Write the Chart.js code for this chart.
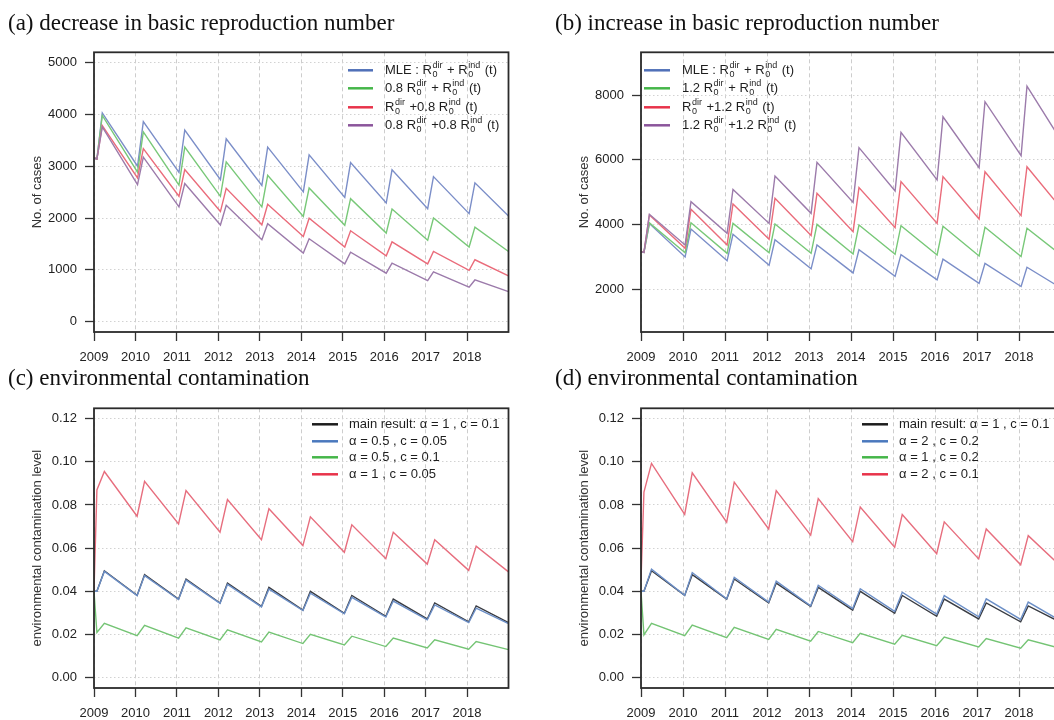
<!DOCTYPE html>
<html lang="en">
<head>
<meta charset="UTF-8">
<title>Scenarios: basic reproduction number and environmental contamination</title>
<style>
  html, body { margin: 0; padding: 0; background: #fff; }
  body { width: 1054px; height: 720px; overflow: hidden; position: relative; }
  canvas { position: absolute; }
  #chartA { left: 0; top: 0; }
  #chartB { left: 547px; top: 0; }
  #chartC { left: 0; top: 360px; }
  #chartD { left: 547px; top: 360px; }
</style>
</head>
<body>
<canvas id="chartA" width="530" height="372"></canvas>
<canvas id="chartB" width="540" height="372"></canvas>
<canvas id="chartC" width="530" height="360"></canvas>
<canvas id="chartD" width="540" height="360"></canvas>

<script src="https://cdn.jsdelivr.net/npm/chart.js"></script>
<script>
// time points: start, yearly trough / peak, end
const tCases = [2009.0, 2009.07, 2009.2, 2010.05, 2010.19, 2011.05, 2011.19, 2012.05, 2012.19, 2013.05, 2013.19,
  2014.05, 2014.19, 2015.05, 2015.19, 2016.05, 2016.19, 2017.05, 2017.19, 2018.05, 2018.19, 2019.0];
const tEnv = [2009.0, 2009.07, 2009.25, 2010.04, 2010.22, 2011.04, 2011.22, 2012.04, 2012.22, 2013.04, 2013.22,
  2014.04, 2014.22, 2015.04, 2015.22, 2016.04, 2016.22, 2017.04, 2017.22, 2018.04, 2018.22, 2019.0];

const yearTicks = [2009, 2010, 2011, 2012, 2013, 2014, 2015, 2016, 2017, 2018];
const yearLabels = ['2009', '2010', '2011', '2012', '2013', '2014', '2015', '2016', '2017', '2018'];
const casesTicksA = [0, 1000, 2000, 3000, 4000, 5000];
const casesLabelsA = ['0', '1000', '2000', '3000', '4000', '5000'];
const casesTicksB = [2000, 4000, 6000, 8000];
const casesLabelsB = ['2000', '4000', '6000', '8000'];
const envTicks = [0, 0.02, 0.04, 0.06, 0.08, 0.10, 0.12];
const envLabels = ['0.00', '0.02', '0.04', '0.06', '0.08', '0.10', '0.12'];

// number of cases
const casesMLE = [3160, 3140, 4030, 3000, 3860, 2880, 3700, 2740, 3530, 2630, 3370, 2505, 3220, 2400, 3070, 2290, 2930, 2180, 2800, 2085, 2680, 2040];
const casesDir08 = [3160, 3140, 3980, 2885, 3665, 2635, 3370, 2420, 3085, 2215, 2825, 2030, 2580, 1860, 2375, 1710, 2175, 1570, 2000, 1440, 1825, 1355];
const casesInd08 = [3160, 3140, 3785, 2775, 3340, 2420, 2935, 2125, 2575, 1870, 2265, 1645, 1995, 1440, 1755, 1270, 1540, 1115, 1355, 990, 1195, 885];
const casesBoth08 = [3160, 3140, 3760, 2645, 3175, 2215, 2665, 1865, 2245, 1580, 1890, 1325, 1600, 1115, 1340, 935, 1130, 790, 960, 665, 805, 580];
const casesDir12 = [3160, 3140, 4050, 3130, 4055, 3110, 4035, 3130, 4015, 3110, 4005, 3090, 3985, 3080, 3965, 3060, 3945, 3030, 3915, 3010, 3885, 3060];
const casesInd12 = [3160, 3140, 4295, 3265, 4470, 3370, 4635, 3545, 4810, 3665, 4965, 3780, 5140, 3905, 5325, 4035, 5480, 4170, 5630, 4275, 5785, 4510];
const casesBoth12 = [3160, 3140, 4315, 3370, 4705, 3730, 5085, 4035, 5500, 4345, 5920, 4685, 6375, 5035, 6845, 5375, 7330, 5755, 7795, 6125, 8275, 6600];

// environmental contamination level
const envMain = [0.040, 0.040, 0.0495, 0.0381, 0.0477, 0.0364, 0.0457, 0.0346, 0.0438, 0.0330, 0.0418, 0.0313, 0.0400, 0.0298, 0.0381, 0.0284, 0.0364, 0.0272, 0.0346, 0.0259, 0.0332, 0.0255];
const envA05c005 = [0.040, 0.040, 0.0492, 0.0380, 0.0473, 0.0362, 0.0452, 0.0344, 0.0432, 0.0328, 0.0410, 0.0311, 0.0391, 0.0296, 0.0372, 0.0281, 0.0355, 0.0268, 0.0337, 0.0255, 0.0322, 0.0250];
const envA05c01 = [0.040, 0.0209, 0.0252, 0.0194, 0.0242, 0.0183, 0.0231, 0.0175, 0.0221, 0.0166, 0.0211, 0.0158, 0.0201, 0.0152, 0.0192, 0.0144, 0.0183, 0.0138, 0.0175, 0.0132, 0.0167, 0.0130];
const envA1c005 = [0.040, 0.087, 0.0955, 0.0748, 0.0910, 0.0712, 0.0867, 0.0674, 0.0825, 0.0639, 0.0783, 0.0612, 0.0745, 0.0581, 0.0708, 0.0551, 0.0674, 0.0526, 0.0639, 0.0497, 0.0609, 0.0490];
const envA2c02 = [0.040, 0.040, 0.0503, 0.0381, 0.0487, 0.0365, 0.0465, 0.0350, 0.0447, 0.0333, 0.0428, 0.0320, 0.0412, 0.0307, 0.0396, 0.0294, 0.0380, 0.0282, 0.0365, 0.0270, 0.0350, 0.0262];
const envA1c02 = [0.040, 0.0198, 0.0252, 0.0194, 0.0243, 0.0185, 0.0233, 0.0177, 0.0224, 0.0169, 0.0214, 0.0162, 0.0205, 0.0155, 0.0196, 0.0148, 0.0188, 0.0142, 0.0181, 0.0136, 0.0175, 0.0135];
const envA2c01 = [0.045, 0.086, 0.0993, 0.0756, 0.0949, 0.0720, 0.0906, 0.0689, 0.0867, 0.0660, 0.0830, 0.0630, 0.0791, 0.0604, 0.0756, 0.0574, 0.0722, 0.0550, 0.0689, 0.0523, 0.0658, 0.0515];

Chart.defaults.font.family = '"Liberation Sans", Arial, sans-serif';
Chart.defaults.font.size = 13;
Chart.defaults.color = '#222';

const FONT = '"Liberation Sans", Arial, sans-serif';

// legend text: "R_0^dir" is drawn as R with stacked sub 0 / sup dir
function drawRich(ctx, str, x, y) {
  const parts = str.split(/(_0\^[a-z]+)/);
  for (const p of parts) {
    if (!p) continue;
    if (p.startsWith('_0^')) {
      const sup = p.slice(3);
      ctx.font = '9px ' + FONT;
      const w = Math.max(ctx.measureText('0').width, ctx.measureText(sup).width);
      ctx.fillText('0', x + 0.5, y + 4.5);
      ctx.fillText(sup, x + 0.5, y - 5);
      x += w + 1.5;
      ctx.font = '13px ' + FONT;
    } else {
      ctx.fillText(p, x, y);
      x += ctx.measureText(p).width;
    }
  }
}

const framePlugin = {
  id: 'frame',
  afterDraw(chart, args, opts) {
    const {ctx, chartArea: a} = chart;
    ctx.save();
    ctx.strokeStyle = '#2b2b2b';
    ctx.lineWidth = 1.8;
    ctx.strokeRect(a.left, a.top, a.right - a.left, a.bottom - a.top);

    const lg = opts.legend;
    ctx.textBaseline = 'middle';
    ctx.textAlign = 'left';
    chart.data.datasets.forEach((ds, i) => {
      const y = a.top + lg.rows[i];
      ctx.strokeStyle = ds.legendColor;
      ctx.lineWidth = 2.5;
      ctx.beginPath();
      ctx.moveTo(a.left + lg.x0, y);
      ctx.lineTo(a.left + lg.x1, y);
      ctx.stroke();
      ctx.fillStyle = '#1e1e1e';
      ctx.font = '13px ' + FONT;
      drawRich(ctx, ds.label, a.left + lg.tx, y);
    });
    ctx.restore();
  }
};

function series(xs, ys) {
  return xs.map((x, i) => ({x: x, y: ys[i]}));
}

function makeDataset(label, xs, ys, color, legendColor, order) {
  return {
    label: label,
    data: series(xs, ys),
    borderColor: color,
    legendColor: legendColor,
    borderWidth: 1.4,
    pointRadius: 0,
    tension: 0,
    fill: false,
    order: order
  };
}

function makeChart(id, title, titlePad, datasets, yMin, yMax, yTicks, yLabels, yTitle, legend, pad, xAxisH) {
  return new Chart(document.getElementById(id), {
    type: 'line',
    data: {datasets: datasets},
    plugins: [framePlugin],
    options: {
      responsive: false,
      animation: false,
      events: [],
      layout: {padding: pad},
      plugins: {
        legend: {display: false},
        tooltip: {enabled: false},
        title: {
          display: true,
          text: title,
          align: 'start',
          color: '#111',
          font: {family: '"Liberation Serif", "DejaVu Serif", serif', size: 23, weight: 'normal'},
          padding: titlePad
        },
        frame: {legend: legend}
      },
      scales: {
        x: {
          type: 'linear',
          min: 2009,
          max: 2019,
          afterBuildTicks: s => { s.ticks = yearTicks.map(v => ({value: v})); },
          afterFit: s => { s.height = xAxisH; },
          ticks: {callback: (v, i) => yearLabels[i], maxRotation: 0, autoSkip: false, padding: 9, color: '#222'},
          grid: {color: '#cdcdcd', lineWidth: 1, tickLength: 9, tickColor: '#333', tickWidth: 1.3},
          border: {display: false, dash: [4, 3]}
        },
        y: {
          type: 'linear',
          min: yMin,
          max: yMax,
          afterBuildTicks: s => { s.ticks = yTicks.map(v => ({value: v})); },
          afterFit: s => { s.width = 86; },
          ticks: {callback: (v, i) => yLabels[i], padding: 8, color: '#222'},
          grid: {color: '#d2d2d2', lineWidth: 1, tickLength: 9, tickColor: '#333', tickWidth: 1.3},
          border: {display: false, dash: [1.5, 2.5]},
          title: {display: true, text: yTitle, color: '#333', font: {size: 13}, padding: {top: 22, bottom: 0}}
        }
      }
    }
  });
}

const blueL = '#7b8ec8', greenL = '#78c878', redL = '#ea6c7b', purpleL = '#9c7bab';
const blueK = '#5070b8', greenK = '#45b649', redK = '#e8334a', purpleK = '#8b559b';

makeChart('chartA', '(a) decrease in basic reproduction number', {top: 10, bottom: 14.7}, [
  makeDataset('MLE : R_0^dir + R_0^ind (t)', tCases, casesMLE, blueL, blueK, 4),
  makeDataset('0.8 R_0^dir + R_0^ind (t)', tCases, casesDir08, greenL, greenK, 3),
  makeDataset('R_0^dir +0.8 R_0^ind (t)', tCases, casesInd08, redL, redK, 2),
  makeDataset('0.8 R_0^dir +0.8 R_0^ind (t)', tCases, casesBoth08, purpleL, purpleK, 1)
], -200, 5200, casesTicksA, casesLabelsA, 'No. of cases',
  {x0: 254, x1: 279, tx: 291, rows: [18, 36, 55, 73]}, {left: 8, right: 21.5, top: 0, bottom: 4}, 36);

makeChart('chartB', '(b) increase in basic reproduction number', {top: 10, bottom: 14.7}, [
  makeDataset('MLE : R_0^dir + R_0^ind (t)', tCases, casesMLE, blueL, blueK, 4),
  makeDataset('1.2 R_0^dir + R_0^ind (t)', tCases, casesDir12, greenL, greenK, 3),
  makeDataset('R_0^dir +1.2 R_0^ind (t)', tCases, casesInd12, redL, redK, 2),
  makeDataset('1.2 R_0^dir +1.2 R_0^ind (t)', tCases, casesBoth12, purpleL, purpleK, 1)
], 680, 9320, casesTicksB, casesLabelsB, 'No. of cases',
  {x0: 3, x1: 29, tx: 41, rows: [18, 36, 55, 73]}, {left: 8, right: 26, top: 0, bottom: 4}, 36);

const blackL = '#3a3d44', blue2L = '#6c8fc7', green2L = '#74c474', red2L = '#e76e7e';
const blackK = '#1c1c1c', blue2K = '#4a78bd', green2K = '#45b649', red2K = '#e8334a';

makeChart('chartC', '(c) environmental contamination', {top: 5, bottom: 15.7}, [
  makeDataset('main result: α = 1 , c = 0.1', tEnv, envMain, blackL, blackK, 4),
  makeDataset('α = 0.5 , c = 0.05', tEnv, envA05c005, blue2L, blue2K, 3),
  makeDataset('α = 0.5 , c = 0.1', tEnv, envA05c01, green2L, green2K, 2),
  makeDataset('α = 1 , c = 0.05', tEnv, envA1c005, red2L, red2K, 1)
], -0.0048, 0.1248, envTicks, envLabels, 'environmental contamination level',
  {x0: 218, x1: 244, tx: 255, rows: [16, 33, 49, 66]}, {left: 8, right: 21.5, top: 0, bottom: 0}, 32);

makeChart('chartD', '(d) environmental contamination', {top: 5, bottom: 15.7}, [
  makeDataset('main result: α = 1 , c = 0.1', tEnv, envMain, blackL, blackK, 4),
  makeDataset('α = 2 , c = 0.2', tEnv, envA2c02, blue2L, blue2K, 3),
  makeDataset('α = 1 , c = 0.2', tEnv, envA1c02, green2L, green2K, 2),
  makeDataset('α = 2 , c = 0.1', tEnv, envA2c01, red2L, red2K, 1)
], -0.0048, 0.1248, envTicks, envLabels, 'environmental contamination level',
  {x0: 221, x1: 247, tx: 258, rows: [16, 33, 49, 66]}, {left: 8, right: 26, top: 0, bottom: 0}, 32);
</script>
</body>
</html>
